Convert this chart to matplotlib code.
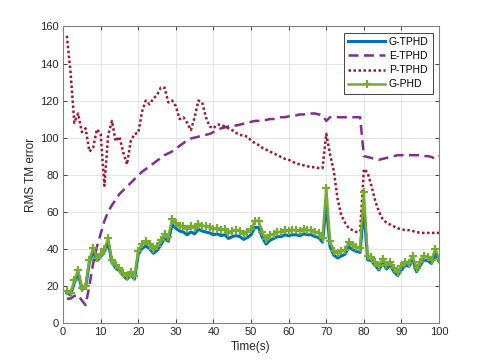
import matplotlib
matplotlib.use("Agg")
import matplotlib.pyplot as plt
import numpy as np

plt.rcParams['font.family'] = ['Liberation Sans', 'DejaVu Sans']

czas = np.arange(1, 101)

g_tphd = [16, 15, 21.5, 27, 18, 19, 32.5, 38.5, 33.5, 35.5,
          38.5, 43.5, 32.5, 29.5, 28, 25.5, 23.5, 26, 23.5, 37,
          40, 41.5, 40, 37.5, 39, 42, 45.5, 44, 53, 51,
          49.5, 49, 47.5, 49, 48, 50.5, 49.5, 49, 48.5, 47.5,
          48, 47, 47.5, 45.5, 46.5, 47, 46.5, 45, 46, 47.5,
          51.5, 51.5, 46, 42.5, 44.5, 45.5, 46.5, 46.5, 47.5, 47,
          47.5, 47.5, 47, 48, 47.5, 47.5, 46.5, 46, 43.5, 64,
          41, 36.5, 35, 36, 37, 41, 39.5, 38.5, 38, 62,
          34, 33.5, 31, 28.5, 32.5, 29, 31, 27.5, 25.5, 28.5,
          31, 30.5, 34, 27.5, 31, 34, 33.5, 32, 37.5, 33]

e_tphd = [13, 13, 14.5, 15, 12, 9.5, 20, 32, 41, 48,
          55, 60, 63.5, 66.5, 69.5, 71.5, 73.5, 75.5, 77.5, 79.5,
          81.5, 83, 84.5, 86, 87.5, 89, 90.5, 91.5, 92.5, 94,
          95.5, 97, 98.5, 99.5, 100, 100.5, 101, 101.5, 102, 103,
          104, 105, 105.5, 106, 106.5, 106.5, 107, 107.5, 108, 108.5,
          109, 109, 109.5, 109.5, 110, 110, 110.5, 111, 111, 111.5,
          112, 112, 112.5, 112.5, 113, 113, 113, 112.5, 112, 109,
          111, 111, 111, 111, 111, 111, 111, 111, 111, 90,
          89.5, 89, 88.5, 88, 88.5, 89, 89.5, 90, 90.5, 90.5,
          90.5, 90.5, 90.5, 90.5, 90.5, 90, 90, 89.5, 88.5, 90]

p_tphd = [155, 135, 108, 113, 103, 105, 92.5, 94.5, 104.5, 102,
          74, 101.5, 109, 98, 100.5, 92, 85.5, 98, 102, 102.5,
          114, 120, 118, 121, 123, 127, 127, 119, 120, 117,
          110, 111, 108, 104, 111, 120, 119, 111, 106, 105,
          107, 107, 106, 105, 104, 102.5, 101.5, 101, 100.5, 98.5,
          97, 96, 94.5, 93.5, 92.5, 91.5, 90.5, 89.5, 88.5, 88,
          87, 86, 85.5, 85, 84.5, 84, 84, 83.5, 83.5, 102,
          91, 82, 67, 58, 54, 51, 50, 49, 49, 83,
          81, 74, 66, 60, 56, 54, 53, 52, 51, 50.5,
          50, 50, 49.5, 49, 48.5, 48.5, 48.5, 48.5, 48.5, 48.5]

g_phd = [17, 16, 23, 28.5, 19, 20, 34, 40.5, 35, 37,
         40, 45.5, 34, 31, 29.5, 27, 25, 27.5, 25, 39,
         42.5, 44, 42.5, 40, 41.5, 44.5, 48, 46.5, 56, 54,
         52.5, 52, 50.5, 52, 51, 53.5, 52.5, 52, 51.5, 50.5,
         51, 50, 50.5, 48.5, 49.5, 50, 49.5, 48, 49, 50.5,
         55, 55, 49, 45, 47.5, 48, 49, 49, 50, 49.5,
         50, 50, 49.5, 50.5, 50, 50, 49, 48.5, 46, 73,
         44, 39, 37.5, 38.5, 39.5, 43.5, 42, 41, 40.5, 70.5,
         36, 35.5, 33, 30.5, 34.5, 31, 33, 29.5, 27.5, 30.5,
         33, 32.5, 36, 29.5, 33, 36, 35.5, 34, 40, 34.5]

fig = plt.figure(figsize=(4.85, 3.63), dpi=100)
ax = fig.add_axes([0.13, 0.111, 0.7753, 0.816])

ax.plot(czas, g_tphd, color=(0, 0.447, 0.741), lw=2.2, label='G-TPHD')
ax.plot(czas, e_tphd, color=(0.494, 0.184, 0.556), lw=1.8,
        linestyle=(0, (4, 2.2)), label='E-TPHD')
ax.plot(czas, p_tphd, color=(0.635, 0.078, 0.184), lw=1.8,
        linestyle=(0, (1, 1)), label='P-TPHD')
ax.plot(czas, g_phd, color=(0.466, 0.674, 0.188), lw=1.8, marker='+',
        ms=5.5, mew=1.6, label='G-PHD')

ax.set_xlim(0, 100)
ax.set_ylim(0, 160)
ax.set_xticks(np.arange(0, 101, 10))
ax.set_yticks(np.arange(0, 161, 20))
ax.grid(True, color=(0.88, 0.88, 0.88), lw=0.6)
ax.set_axisbelow(True)
ax.tick_params(direction='in', length=3, width=0.6, top=True, right=True,
               labelsize=8, colors=(0.15, 0.15, 0.15), pad=3)
for s in ax.spines.values():
    s.set_color((0.5, 0.5, 0.5))
    s.set_linewidth(0.8)

ax.set_xlabel('Time(s)', fontsize=8.5, color=(0.15, 0.15, 0.15), labelpad=3)
ax.set_ylabel('RMS TM error', fontsize=8.5, color=(0.15, 0.15, 0.15), labelpad=2)

leg = ax.legend(loc='upper right', fontsize=7.5, handlelength=3.5,
                handletextpad=0.4, labelspacing=0.4, borderaxespad=0.6,
                fancybox=False, framealpha=1, borderpad=0.4)
leg.get_frame().set_edgecolor((0.15, 0.15, 0.15))
leg.get_frame().set_linewidth(0.6)

fig.savefig('out.png', dpi=100)
